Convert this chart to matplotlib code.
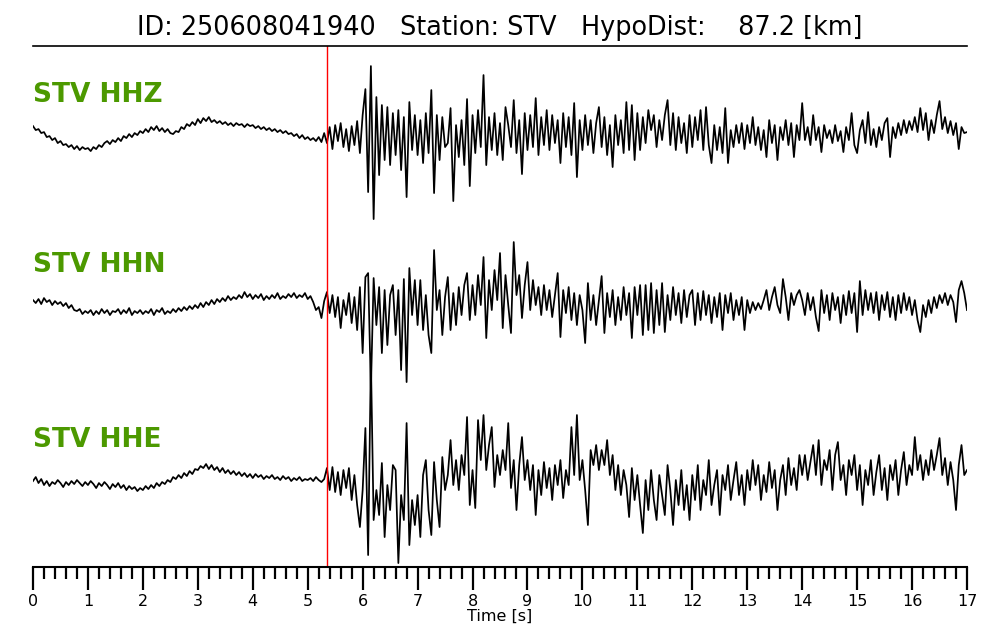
import numpy as np
import matplotlib.pyplot as plt
from matplotlib.ticker import MultipleLocator

# event info
event_id = '250608041940'
station = 'STV'
hypo_dist = 87.2
p_pick = 5.35      # red marker (s)
dt = 0.05          # sample spacing (s) of the traced waveforms
channels = ['HHZ', 'HHN', 'HHE']

# amplitudes (arbitrary units, up = positive), one row per second
hhz = [
    9, 5, 6, 2, 3, -2, -1, -5, -3, -8, -6, -10, -9, -12, -10, -14, -11, -15, -12, -14,
    -13, -16, -12, -14, -10, -12, -8, -6, -9, -5, -7, -3, -6, -1, -3, 1, -2, 2, 0, 4,
    2, 6, 3, 8, 5, 9, 4, 7, 3, 6, 2, 1, 4, 3, 8, 6, 11, 9, 13, 10,
    16, 12, 17, 14, 18, 13, 15, 12, 14, 11, 13, 10, 12, 9, 12, 10, 11, 8, 11, 9,
    10, 7, 9, 6, 8, 5, 7, 4, 6, 3, 5, 2, 4, 1, 2, -1, 1, -3, 0, -4,
    -2, -5, -3, -6, -2, -7, 2, -8, 8, -14, 10, -6, 12, -12, 6, -16, 9, -10, 14, -18,
    20, 46, -57, 69, -84, 38, -40, 30, -25, 28, -30, 22, -20, 25, -35, 18, -62, 33, -15, 20,
    -20, 15, -28, 22, -18, 45, -58, 20, -25, 18, -12, -8, 27, -66, 10, -22, 15, -30, 36, -51,
    20, -18, 25, -12, 60, -30, 18, -15, 22, -20, 12, -25, 28, 10, -12, 35, -18, 15, -39, 22,
    -15, 20, -12, 37, -20, 18, -10, 25, -15, 20, -8, 15, -28, 22, -12, 18, -20, 32, -42, 15,
    -15, 20, -10, 15, -18, 12, 28, -12, 18, -20, 10, -32, 20, -10, 15, -18, 33, -15, 30, -25,
    22, -15, 18, -8, 25, 5, 20, -12, 15, -5, 20, 35, -10, 22, -15, 18, -8, 12, -18, 20,
    -12, 18, -5, 25, -15, 28, -10, -28, 10, -15, 8, -18, 27, -28, 5, -12, 10, -8, 12, -14,
    10, -8, 18, -10, 8, -15, 5, -22, 15, -8, 10, -25, 8, -5, 15, -10, 12, -22, 10, -5,
    32, -5, 8, -10, 20, -5, 8, -17, 10, -3, 5, -8, 10, -6, 4, -17, 8, -5, 22, -10,
    -18, 5, 15, -8, 23, -10, 6, -12, 8, -5, 12, 17, -22, 8, -3, 12, 0, 15, 2, 14,
    5, 18, 3, 27, 5, 22, -5, 15, 2, 20, 34, 6, 18, 2, 14, 0, 12, -14, 8, 2,
    3,
]
hhn = [
    5, 2, 6, 1, 7, 3, 5, 0, 4, 1, 3, -1, 2, -3, 0, -5, -6, -4, -9, -6,
    -8, -5, -10, -6, -9, -4, -8, -5, -10, -6, -7, -4, -9, -5, -8, -3, -10, -6, -8, -5,
    -9, -6, -8, -4, -10, -5, -7, -3, -9, -6, -8, -4, -7, -3, -6, -2, -5, -1, -4, 0,
    -3, 2, -2, 3, 0, 5, 1, 6, 3, 7, 4, 9, 5, 8, 6, 10, 7, 13, 8, 11,
    6, 10, 7, 11, 5, 9, 6, 10, 7, 12, 6, 9, 7, 11, 8, 12, 7, 10, 8, 12,
    6, 9, 3, -5, -2, -13, 4, 13, -8, 10, -12, 8, -23, 5, -10, 12, -18, 8, -25, 18,
    -48, 28, 32, -85, 27, -20, 18, -48, 15, -40, 10, 20, -30, 15, -65, 26, -77, 37, -10, 25,
    -20, 25, -25, 10, -30, -48, 55, -5, 15, -30, 8, 28, -25, 12, -20, 18, -10, 20, 32, -15,
    20, -10, 30, 0, 48, -33, 25, -5, 35, 5, 52, -23, 30, 0, -28, 63, 10, 30, -13, 20,
    43, -5, 25, 0, 18, -10, 20, -5, 15, -12, 10, 32, -32, 15, -8, 18, -15, 12, -20, 10,
    -5, -38, 22, -15, 10, -20, 5, 29, -28, 12, -12, 15, -20, 8, -15, 18, -10, 12, -33, 18,
    -10, 20, -30, 20, -25, 22, -28, 15, -20, 22, -27, 10, -15, 18, -10, 12, -18, 15, -12, 10,
    15, -20, 12, -15, 14, -10, 10, -18, 8, -12, 12, -25, 10, -8, 12, -15, 5, -10, 8, -25,
    5, -8, 3, -5, 2, -4, 5, 15, -5, 8, 18, 0, -8, 26, 8, -15, 12, 0, 10, 15,
    5, -10, 12, -5, 8, -12, -26, 15, -8, 10, -15, 12, -5, 8, -18, 10, -10, 14, -8, 12,
    -27, 24, -10, 15, -5, 12, -8, 13, -15, 10, -5, 13, -12, 8, -15, 10, -8, 12, -5, 8,
    -10, 5, -15, -27, 0, -12, 5, -8, 8, -3, 10, 2, 12, 0, 10, 3, -17, 15, 24, 12,
    -5,
]
hhe = [
    -1, 3, -3, 1, -5, -1, -6, -2, -4, 0, -3, -7, -2, -5, -1, -4, 0, -3, -6, -2,
    -5, -1, -4, -8, -3, -6, -2, -5, -9, -4, -7, -3, -8, -5, -10, -6, -9, -7, -11, -8,
    -10, -6, -9, -5, -8, -3, -6, -2, -4, 0, -2, 3, 1, 5, 2, 7, 4, 9, 6, 11,
    10, 14, 12, 16, 11, 15, 10, 13, 8, 12, 7, 10, 6, 9, 5, 8, 4, 7, 3, 6,
    2, 6, 3, 5, 1, 4, 2, 5, 1, 3, 0, 4, 1, 3, -1, 2, 0, 3, -1, 1,
    0, 2, -1, 3, 0, -2, 1, 12, -10, 13, -12, 8, -15, 10, -8, 12, -20, 5, -25, -47,
    -10, 52, -75, 122, -40, -10, -35, 17, -57, -5, -30, 15, 10, -83, -15, -40, 57, -65, -20, -45,
    -15, -57, 5, 20, -30, -55, 18, -20, -47, 23, -10, 5, 40, -5, 20, -10, 25, 5, 63, -25,
    10, -28, 60, 20, 65, 10, 35, 53, -7, 25, 5, 30, 10, 57, -8, 20, -30, 15, 43, 0,
    20, -10, 15, -35, 10, -15, 18, -8, 12, -20, 15, -5, 20, -18, 10, -5, 53, 5, 65, 0,
    20, -10, -45, 30, 15, 35, 10, 30, 15, 40, 5, 25, -10, 15, -15, 10, -5, -37, 12, -20,
    5, -25, -53, 0, -30, 10, -20, -40, 5, -15, -35, 15, -10, -45, 0, -25, 10, -30, -5, -40,
    5, -20, 15, -30, 0, -15, 20, -25, -5, 10, -35, 5, -10, 15, -20, 0, 18, -15, 5, -25,
    10, -10, 20, -5, 15, -20, 5, -12, 18, -8, 10, -30, 0, 15, -15, 22, -5, 12, -10, 25,
    5, 25, 0, 18, 35, 5, 40, -5, 20, 10, 30, -10, 25, 38, 0, 15, -15, 20, 5, 25,
    -10, 15, -25, 10, -5, 20, -15, 8, 25, -10, 12, -20, 15, 0, 20, -15, 10, 28, -5, 15,
    5, 43, 10, 25, 0, 20, 5, 30, 10, 25, 42, 5, 22, -5, 18, 0, -30, 15, 35, 5,
    10,
]

traces = [hhz, hhn, hhe]
offsets = [-135, -305, -480]   # vertical position of each trace

fig = plt.figure(figsize=(10, 6.4), dpi=100)
ax = fig.add_axes([0.033, 0.114, 0.934, 0.814])

for name, tr, off in zip(channels, traces, offsets):
    t = np.arange(len(tr)) * dt
    ax.plot(t, np.array(tr) + off, color='black', lw=1.25)
    ax.text(0, off + 33, f'{station} {name}', color='#4c9900', fontsize=19,
            fontweight='bold', ha='left', va='baseline')

ax.axvline(p_pick, color='red', lw=1)

ax.set_xlim(0, 17)
ax.set_ylim(-567, -46)
ax.set_yticks([])
ax.set_xticks(np.arange(0, 18, 1))
ax.xaxis.set_minor_locator(MultipleLocator(0.2))
ax.tick_params(axis='x', which='major', length=16.5, width=1.6, labelsize=11.5, pad=3)
ax.tick_params(axis='x', which='minor', length=8.5, width=1.6)
ax.set_xlabel('Time [s]', fontsize=11.5, labelpad=0)

for side in ['left', 'right']:
    ax.spines[side].set_visible(False)
ax.spines['top'].set_linewidth(1.2)
ax.spines['bottom'].set_linewidth(1.5)

fig.text(0.5, 1 - 28 / 640,
         f'ID: {event_id}   Station: {station}   HypoDist:    {hypo_dist:.1f} [km]',
         fontsize=18.4, ha='center', va='center')

fig.savefig('out.png', dpi=100)
